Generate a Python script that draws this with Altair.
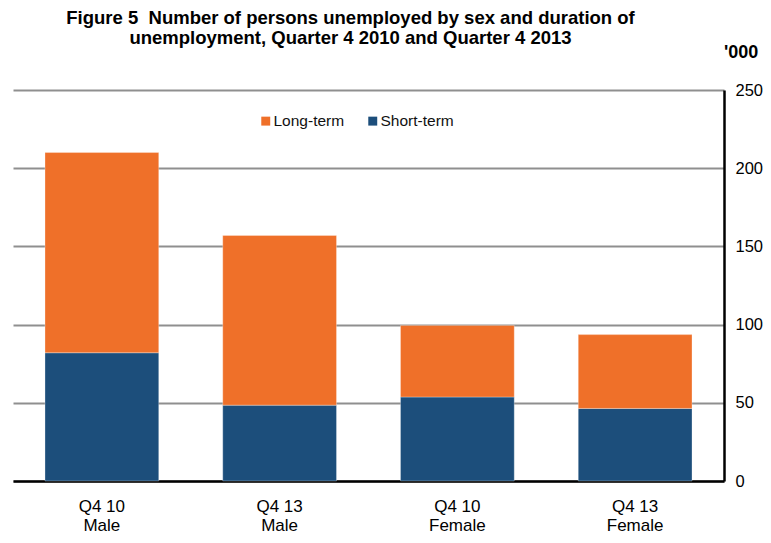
import altair as alt
import pandas as pd

categories = ["Q4 10|Male", "Q4 13|Male", "Q4 10|Female", "Q4 13|Female"]
short_term = [82.0, 48.5, 53.7, 46.4]
long_term = [128.0, 108.5, 45.8, 47.2]
series = ["Long-term", "Short-term"]
colors = ["#EF7029", "#1C4E7B"]
y_ticks = [0, 50, 100, 150, 200, 250]
title_lines = [
    "Figure 5\u00a0 Number of persons unemployed by sex and duration of",
    "unemployment, Quarter 4 2010 and Quarter 4 2013",
]
unit_label = ["'000"]

rows = []
for c, s, l in zip(categories, short_term, long_term):
    rows.append({"cat": c, "series": "Short-term", "value": s, "ord": 0})
    rows.append({"cat": c, "series": "Long-term", "value": l, "ord": 1})
df = pd.DataFrame(rows)

FONT = "Liberation Sans"

bars = alt.Chart(df).mark_bar(stroke="white", strokeWidth=0.6, strokeOpacity=0.5).encode(
    x=alt.X(
        "cat:N",
        sort=categories,
        scale=alt.Scale(paddingInner=0.36, paddingOuter=0.18),
        axis=alt.Axis(
            title=None,
            labelExpr="split(datum.label, '|')",
            labelAngle=0,
            labelFont=FONT,
            labelFontSize=17,
            labelColor="black",
            labelLineHeight=19,
            labelPadding=17,
            ticks=False,
            domainColor="black",
            domainWidth=2.5,
        ),
    ),
    y=alt.Y(
        "value:Q",
        stack="zero",
        scale=alt.Scale(domain=[0, 250], nice=False),
        axis=alt.Axis(
            orient="right",
            title=None,
            values=y_ticks,
            labelFont=FONT,
            labelFontSize=16.5,
            labelColor="black",
            labelPadding=11,
            ticks=False,
            domainColor="black",
            domainWidth=2.5,
            grid=True,
            gridColor="#8f8f8f",
            gridWidth=2,
        ),
    ),
    color=alt.Color(
        "series:N",
        scale=alt.Scale(domain=series, range=colors),
        legend=alt.Legend(
            title=None,
            orient="none",
            legendX=245,
            legendY=23,
            direction="horizontal",
            symbolType="square",
            symbolSize=80,
            symbolStrokeWidth=0,
            symbolOpacity=1,
            labelFont=FONT,
            labelFontSize=15.5,
            labelColor="#111111",
            labelOffset=0,
            columnPadding=20,
        ),
    ),
    order=alt.Order("ord:Q"),
)

unit = alt.Chart(pd.DataFrame({"t": unit_label})).mark_text(
    align="left", baseline="middle", font=FONT, fontSize=18, fontWeight="bold", color="black"
).encode(x=alt.value(711), y=alt.value(-37), text="t:N")

chart = alt.layer(bars, unit).properties(
    width=711,
    height=391,
    autosize=alt.AutoSizeParams(type="none"),
    padding={"left": 5, "top": 82, "right": 39, "bottom": 54},
    title=alt.TitleParams(
        text=title_lines,
        font=FONT,
        fontSize=18.5,
        fontWeight="bold",
        anchor="middle",
        frame="group",
        dx=-18,
        offset=-3,
        lineHeight=20,
        color="black",
    ),
).configure_view(stroke=None)

chart.save("out.html", embed_options={"renderer": "svg", "actions": False})
